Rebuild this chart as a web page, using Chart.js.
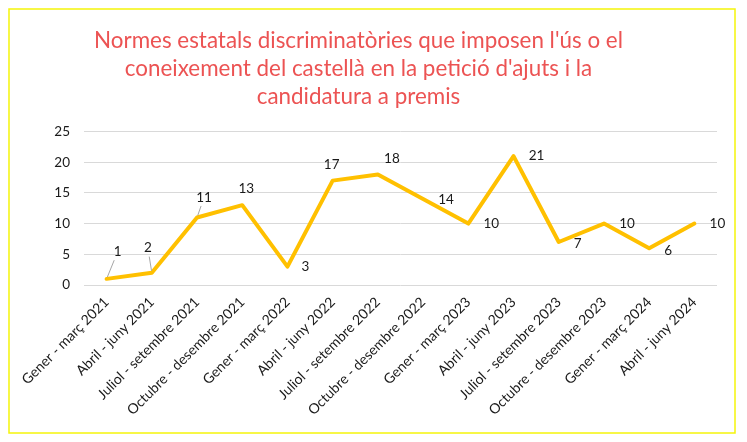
<!DOCTYPE html>
<html>
<head>
<meta charset="utf-8">
<script src="https://cdn.jsdelivr.net/npm/chart.js@4"></script>
<style>
  html, body { margin: 0; padding: 0; background: #ffffff; }
  #wrap { position: relative; width: 747px; height: 442px; }
</style>
</head>
<body>
<div id="wrap"><canvas id="c" width="747" height="442"></canvas></div>
<script>
const categories = [
  "Gener - març 2021", "Abril - juny 2021", "Juliol - setembre 2021", "Octubre - desembre 2021",
  "Gener - març 2022", "Abril - juny 2022", "Juliol - setembre 2022", "Octubre - desembre 2022",
  "Gener - març 2023", "Abril - juny 2023", "Juliol - setembre 2023", "Octubre - desembre 2023",
  "Gener - març 2024", "Abril - juny 2024"
];
const values = [1, 2, 11, 13, 3, 17, 18, 14, 10, 21, 7, 10, 6, 10];
const yTicks = [0, 5, 10, 15, 20, 25];
const titleLines = [
  "Normes estatals discriminatòries que imposen l'ús o el",
  "coneixement del castellà en la petició d'ajuts i la",
  "candidatura a premis"
];

// label placement (offsets in px from each point), and leader lines
const labelOffsets = [
  [11, -27], [-4, -25], [7, -20], [4, -17], [18, 0], [-1, -16], [14, -16],
  [23, 1], [23, 0], [23, 0], [19, 2], [23, 0], [19, 2], [23, 0]
];
const leaderIdx = [0, 1, 2];

const fontFam = "Lato, 'Open Sans', sans-serif";

const borderPlugin = {
  id: 'outerBorder',
  beforeDraw(chart) {
    const ctx = chart.ctx;
    ctx.save();
    ctx.fillStyle = '#ffffff';
    ctx.fillRect(0, 0, chart.width, chart.height);
    ctx.strokeStyle = '#f5f50a';
    ctx.lineWidth = 1.5;
    ctx.strokeRect(9, 9, 726, 424);
    ctx.restore();
  }
};

const labelPlugin = {
  id: 'pointLabels',
  afterDatasetsDraw(chart) {
    const ctx = chart.ctx;
    const meta = chart.getDatasetMeta(0);
    ctx.save();
    ctx.font = "13.5px " + fontFam;
    ctx.textAlign = 'center';
    ctx.textBaseline = 'middle';
    meta.data.forEach((pt, i) => {
      const off = labelOffsets[i];
      const lx = pt.x + off[0], ly = pt.y + off[1];
      if (leaderIdx.includes(i)) {
        ctx.strokeStyle = '#a6a6a6';
        ctx.lineWidth = 1;
        ctx.beginPath();
        const dx = off[0], dy = off[1];
        const len = Math.sqrt(dx * dx + dy * dy);
        const ux = dx / len, uy = dy / len;
        ctx.moveTo(pt.x + ux * 2, pt.y + uy * 2);
        ctx.lineTo(lx - ux * 9, ly - uy * 9);
        ctx.stroke();
      }
      ctx.fillStyle = '#1a1a1a';
      ctx.fillText(String(values[i]), lx, ly);
    });
    ctx.restore();
  }
};

new Chart(document.getElementById('c'), {
  type: 'line',
  data: {
    labels: categories,
    datasets: [{
      data: values,
      borderColor: '#ffc000',
      borderWidth: 4,
      pointRadius: 0,
      pointHoverRadius: 0,
      tension: 0,
      borderJoinStyle: 'round',
      borderCapStyle: 'round',
      fill: false
    }]
  },
  options: {
    responsive: false,
    animation: false,
    events: [],
    layout: { padding: { left: 0, right: 30, top: 0, bottom: 0 } },
    plugins: {
      legend: { display: false },
      tooltip: { enabled: false },
      title: {
        display: true,
        text: titleLines,
        color: '#ec5353',
        font: { family: fontFam, size: 22.4, weight: 'normal', lineHeight: 1.25 },
        padding: { top: 26.5, bottom: 21 }
      }
    },
    scales: {
      x: {
        offset: true,
        grid: { display: false, drawTicks: false },
        border: { display: false },
        ticks: {
          color: '#1a1a1a',
          font: { family: fontFam, size: 14 },
          maxRotation: 45,
          minRotation: 45,
          autoSkip: false,
          padding: 9
        },
        afterFit(scale) { scale.height = 442 - 285; }
      },
      y: {
        min: 0,
        max: 25,
        afterBuildTicks(scale) { scale.ticks = yTicks.map(v => ({ value: v })); },
        grid: { color: '#d9d9d9', lineWidth: 1, drawTicks: false },
        border: { display: false },
        ticks: {
          color: '#1a1a1a',
          font: { family: fontFam, size: 13.5 },
          padding: 14
        },
        afterFit(scale) { scale.width = 84; }
      }
    }
  },
  plugins: [borderPlugin, labelPlugin]
});
</script>
</body>
</html>
